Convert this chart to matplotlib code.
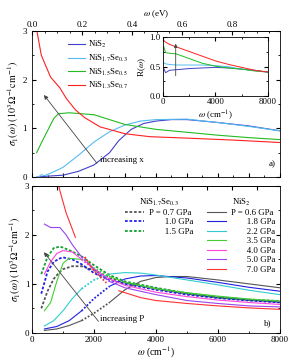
import numpy as np
import matplotlib
matplotlib.use("Agg")
from matplotlib import pyplot as plt
from matplotlib.ticker import MultipleLocator, NullFormatter

plt.rcParams['font.family'] = ['Liberation Serif', 'DejaVu Serif']
plt.rcParams['mathtext.fontset'] = 'stix'
plt.rcParams['font.size'] = 6.5
plt.rcParams['xtick.direction'] = 'in'
plt.rcParams['ytick.direction'] = 'in'
plt.rcParams['xtick.major.size'] = 3
plt.rcParams['ytick.major.size'] = 3
plt.rcParams['xtick.minor.size'] = 1.6
plt.rcParams['ytick.minor.size'] = 1.6
plt.rcParams['axes.linewidth'] = 0.6

CM_PER_EV = 8065.5

# ---- panel a) sigma_1 at ambient pressure ----
a_labels = ["NiS$_2$", "NiS$_{1.7}$Se$_{0.3}$", "NiS$_{1.5}$Se$_{0.5}$", "NiS$_{1.3}$Se$_{0.7}$"]
a_nis2_x = [150, 500, 1000, 1500, 2000, 2500, 2800, 3200, 3600, 4000, 4500, 5000, 6000, 7000, 8000]
a_nis2_y = [0.0, 0.02, 0.04, 0.12, 0.25, 0.5, 0.75, 0.98, 1.1, 1.15, 1.18, 1.18, 1.12, 1.05, 0.95]
a_se03_x = [200, 300, 400, 600, 1000, 1500, 2000, 2500, 3000, 3500, 4000, 5000, 6000, 7000, 8000]
a_se03_y = [0.0, 0.05, 0.03, 0.08, 0.2, 0.45, 0.72, 0.93, 1.07, 1.15, 1.18, 1.19, 1.12, 1.04, 0.95]
a_se05_x = [150, 300, 500, 700, 850, 1200, 1600, 2000, 2500, 3000, 4000, 5000, 6000, 7000, 8000]
a_se05_y = [0.5, 0.7, 0.95, 1.2, 1.3, 1.32, 1.3, 1.28, 1.18, 1.08, 0.98, 0.92, 0.86, 0.81, 0.77]
a_se07_x = [100, 300, 600, 900, 1100, 1400, 1700, 2200, 3000, 3800, 5000, 6500, 8000]
a_se07_y = [3.2, 2.5, 2.05, 1.83, 1.62, 1.38, 1.22, 1.03, 0.89, 0.83, 0.8, 0.76, 0.71]

# inset: reflectivity
r_x = [50, 200, 500, 1000, 2000, 3000, 4000, 5000, 6000, 7000, 8000]
r_nis2 = [0.48, 0.40, 0.44, 0.45, 0.47, 0.48, 0.49, 0.48, 0.46, 0.44, 0.41]
r_se03 = [0.57, 0.55, 0.54, 0.53, 0.53, 0.53, 0.52, 0.50, 0.46, 0.43, 0.41]
r_se05 = [0.85, 0.74, 0.73, 0.72, 0.64, 0.56, 0.51, 0.48, 0.46, 0.43, 0.41]
r_se07 = [0.95, 0.92, 0.88, 0.84, 0.76, 0.68, 0.60, 0.54, 0.49, 0.44, 0.41]

# ---- panel b) sigma_1 under pressure ----
se_labels = ["P = 0.7 GPa", "       1.0 GPa", "       1.5 GPa"]
se_x = [300, 500, 700, 900, 1000, 1300, 1600, 2000, 2500, 3000, 4000, 5000, 6000, 7000, 8000]
se_p07 = [0.5, 0.85, 1.1, 1.25, 1.3, 1.36, 1.36, 1.28, 1.12, 1.02, 0.9, 0.8, 0.72, 0.67, 0.63]
se_p10 = [0.8, 1.25, 1.45, 1.52, 1.54, 1.5, 1.4, 1.22, 1.08, 1.0, 0.88, 0.78, 0.71, 0.66, 0.62]
se_p15 = [1.2, 1.55, 1.73, 1.76, 1.74, 1.66, 1.56, 1.38, 1.18, 1.05, 0.92, 0.81, 0.73, 0.68, 0.65]

p_labels = ["P = 0.6 GPa", "       1.8 GPa", "       2.2 GPa", "       3.5 GPa",
            "       4.0 GPa", "       5.0 GPa", "       7.0 GPa"]
p06_x = [400, 800, 1200, 1600, 2000, 2500, 3000, 3500, 4000, 4500, 5000, 6000, 7000, 8000]
p06_y = [0.05, 0.08, 0.15, 0.25, 0.4, 0.62, 0.88, 1.05, 1.13, 1.15, 1.15, 1.08, 1.0, 0.92]
p18_x = [400, 800, 1200, 1600, 2000, 2500, 3000, 3500, 4000, 5000, 6000, 7000, 8000]
p18_y = [0.08, 0.13, 0.25, 0.45, 0.7, 0.95, 1.1, 1.16, 1.17, 1.12, 1.03, 0.93, 0.85]
p22_x = [400, 700, 1000, 1300, 1600, 2000, 2500, 3000, 3500, 4000, 5000, 6000, 7000, 8000]
p22_y = [0.14, 0.25, 0.45, 0.7, 0.9, 1.08, 1.2, 1.23, 1.22, 1.18, 1.08, 0.98, 0.87, 0.78]
p35_x = [400, 600, 800, 1000, 1200, 1600, 2000, 2500, 3000, 4000, 5000, 6000, 7000, 8000]
p35_y = [0.45, 0.62, 1.05, 1.42, 1.52, 1.5, 1.32, 1.15, 1.03, 0.9, 0.82, 0.75, 0.69, 0.65]
p40_x = [400, 600, 800, 1000, 1300, 1600, 2000, 2500, 3000, 4000, 5000, 6000, 7000, 8000]
p40_y = [1.2, 1.45, 1.62, 1.68, 1.65, 1.5, 1.3, 1.1, 0.97, 0.83, 0.74, 0.67, 0.62, 0.58]
p50_x = [400, 600, 900, 1100, 1300, 1600, 2000, 2500, 3000, 4000, 5000, 6000, 7000, 8000]
p50_y = [2.22, 2.15, 2.15, 2.0, 1.8, 1.55, 1.3, 1.05, 0.92, 0.78, 0.66, 0.6, 0.55, 0.53]
p70_x = [800, 900, 1100, 1400, 1700, 2000, 2400, 2800, 3500, 4000, 5000, 6000, 7000, 8000]
p70_y = [3.2, 2.9, 2.45, 1.95, 1.55, 1.27, 1.02, 0.86, 0.72, 0.66, 0.6, 0.55, 0.51, 0.48]

a_colors = ["#4040c8", "#55bbf0", "#22bb22", "#ff2020"]
se_colors = ["#555555", "#2020e8", "#11a030"]
p_colors = ["#555555", "#2020e0", "#33cccc", "#44cc33", "#ff44dd", "#9944ee", "#ff3030"]

fig = plt.figure(figsize=(2.91, 3.63), dpi=100)
ax1 = fig.add_axes([0.110, 0.512, 0.852, 0.403])
ax2 = fig.add_axes([0.110, 0.083, 0.852, 0.405])
axin = fig.add_axes([0.560, 0.735, 0.361, 0.162])

lw = 0.8
ylab = r"$\sigma_1(\omega)\ (10^3\Omega^{-1}\mathrm{cm}^{-1})$"

a_data = [(a_nis2_x, a_nis2_y), (a_se03_x, a_se03_y), (a_se05_x, a_se05_y), (a_se07_x, a_se07_y)]
for (x, y), c, lab in zip(a_data, a_colors, a_labels):
    ax1.plot(x, y, color=c, lw=lw, label=lab)
ax1.set_xlim(0, 8000)
ax1.set_ylim(0, 3)
ax1.xaxis.set_major_locator(MultipleLocator(1000))
ax1.xaxis.set_minor_locator(MultipleLocator(500))
ax1.xaxis.set_major_formatter(NullFormatter())
ax1.yaxis.set_major_locator(MultipleLocator(1))
ax1.yaxis.set_minor_locator(MultipleLocator(0.5))
ax1.tick_params(which='both', right=True)
ax1.set_ylabel(ylab, labelpad=1, fontsize=7.2)
top1 = ax1.secondary_xaxis('top', functions=(lambda w: w / CM_PER_EV, lambda e: e * CM_PER_EV))
top1.xaxis.set_major_locator(MultipleLocator(0.2))
top1.xaxis.set_minor_locator(MultipleLocator(0.05))
top1.set_xlabel(r"$\omega$ (eV)", labelpad=3)
top1.tick_params(which='both', direction='in', pad=1.5)
ax1.legend(loc='upper left', bbox_to_anchor=(0.12, 0.985), frameon=False,
           handlelength=1.9, handletextpad=0.4, labelspacing=0.28, fontsize=6.3,
           borderpad=0.2)
ax1.annotate("", xy=(330, 1.73), xytext=(2150, 0.24),
             arrowprops=dict(arrowstyle='-|>', color='#444444', lw=0.6, mutation_scale=6))
ax1.text(2200, 0.36, "increasing x", ha='left', va='center', fontsize=6.5)
ax1.text(7750, 0.27, "a)", ha='center', va='center', fontsize=6.5)

for y, c in zip([r_nis2, r_se03, r_se05, r_se07], a_colors):
    axin.plot(r_x, y, color=c, lw=0.7)
axin.set_xlim(0, 8000)
axin.set_ylim(0, 1.0)
axin.set_xticks([0, 4000, 8000])
axin.set_xticklabels(["0", "4000", "8000"])
axin.set_yticks([0.0, 0.5, 1.0])
axin.set_yticklabels(["0.0", "0.5", "1.0"])
axin.xaxis.set_minor_locator(MultipleLocator(2000))
axin.yaxis.set_minor_locator(MultipleLocator(0.25))
axin.tick_params(which='both', right=True, top=True, pad=1.5, labelsize=6.3)
axin.set_ylabel(r"R($\omega$)", labelpad=1)
axin.set_xlabel(r"$\omega$ (cm$^{-1}$)", labelpad=1.5)
axin.annotate("", xy=(970, 0.94), xytext=(970, 0.30),
              arrowprops=dict(arrowstyle='-|>', color='#444444', lw=0.6, mutation_scale=5))

# panel b
se_handles = []
for y, c, lab in zip([se_p07, se_p10, se_p15], se_colors, se_labels):
    h, = ax2.plot(se_x, y, color=c, lw=1.3, ls=(0, (1.5, 1.0)), label=lab)
    se_handles.append(h)

p_data = [(p06_x, p06_y), (p18_x, p18_y), (p22_x, p22_y), (p35_x, p35_y),
          (p40_x, p40_y), (p50_x, p50_y), (p70_x, p70_y)]
p_handles = []
lo, hi = 1600, 2500
for (x, y), c, lab in zip(p_data, p_colors, p_labels):
    x = np.array(x)
    y = np.array(y)
    left = x <= lo
    mid = (x >= lo) & (x <= hi)
    right = x >= hi
    h, = ax2.plot(x[left], y[left], color=c, lw=lw, label=lab)
    ax2.plot(x[right], y[right], color=c, lw=lw)
    ax2.plot(x[mid], y[mid], color=c, lw=1.3, ls=(0, (1.0, 1.0)))
    p_handles.append(h)

ax2.set_xlim(0, 8000)
ax2.set_ylim(0, 3)
ax2.xaxis.set_major_locator(MultipleLocator(2000))
ax2.xaxis.set_minor_locator(MultipleLocator(1000))
ax2.yaxis.set_major_locator(MultipleLocator(1))
ax2.yaxis.set_minor_locator(MultipleLocator(0.5))
ax2.tick_params(which='both', right=True, pad=2)
ax2.set_ylabel(ylab, labelpad=1, fontsize=7.2)
ax2.set_xlabel(r"$\omega$ (cm$^{-1}$)", labelpad=1, fontsize=7)
top2 = ax2.secondary_xaxis('top', functions=(lambda w: w / CM_PER_EV, lambda e: e * CM_PER_EV))
top2.xaxis.set_major_locator(MultipleLocator(0.1))
top2.xaxis.set_major_formatter(NullFormatter())
top2.tick_params(direction='in')

leg_se = ax2.legend(handles=se_handles, title="NiS$_{1.7}$Se$_{0.3}$", loc='upper left',
                    bbox_to_anchor=(0.35, 0.97), frameon=False, handlelength=2.2,
                    handletextpad=0.6, labelspacing=0.15, fontsize=6.3, title_fontsize=6.3,
                    borderpad=0.2)
ax2.add_artist(leg_se)
ax2.legend(handles=p_handles, title="NiS$_2$", loc='upper left',
           bbox_to_anchor=(0.68, 0.97), frameon=False, handlelength=2.2,
           handletextpad=0.6, labelspacing=0.15, fontsize=6.3, title_fontsize=6.3,
           borderpad=0.2)
ax2.annotate("", xy=(330, 1.69), xytext=(2200, 0.19),
             arrowprops=dict(arrowstyle='-|>', color='#444444', lw=0.6, mutation_scale=6))
ax2.text(2200, 0.29, "increasing P", ha='left', va='center', fontsize=6.5)
ax2.text(7600, 0.2, "b)", ha='center', va='center', fontsize=6.5)

fig.savefig("out.png", dpi=100)
